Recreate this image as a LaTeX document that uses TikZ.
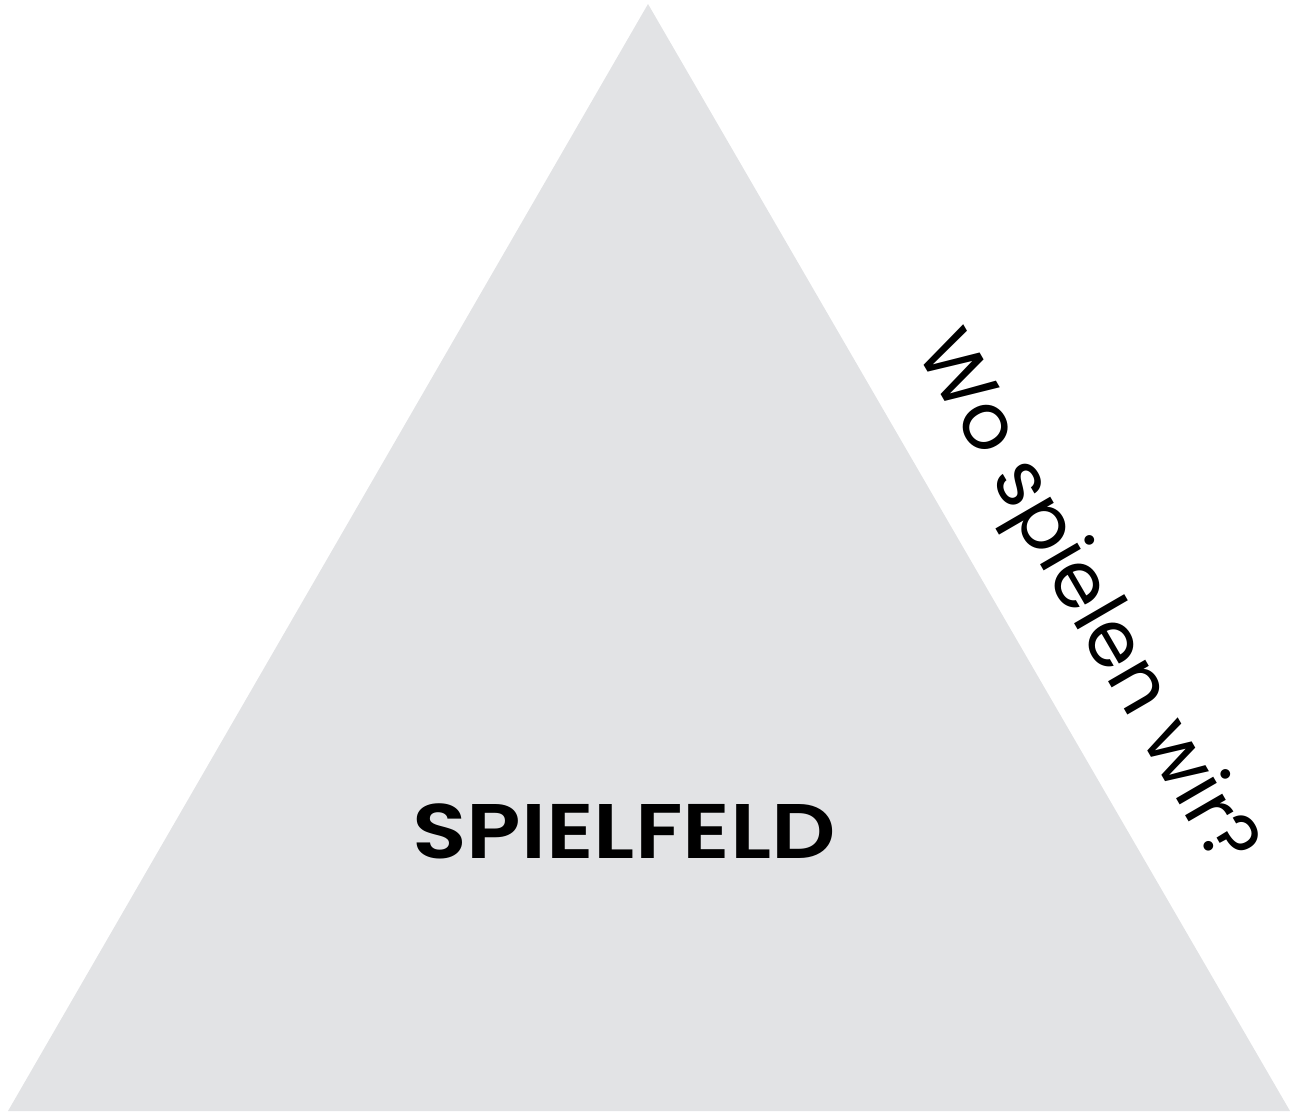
\documentclass[tikz,border=0pt]{standalone}
\usepackage{fontspec}
\setmainfont{Poppins}
\newfontfamily\fieldfont{Poppins SemiBold}
\usepackage{xcolor}
\usetikzlibrary{positioning}
\definecolor{fieldgray}{RGB}{226,227,229}
\tikzset{
  fieldtri/.style={fill=fieldgray, draw=none},
  fieldlabel/.style={font=\fieldfont\fontsize{22}{26}\selectfont, text=black, inner sep=0pt, xscale=1.16, transform shape},
  sidelabel/.style={font=\fontsize{22.3}{27}\selectfont, text=black, inner sep=0pt, rotate=-59.9}
}

\begin{document}
\begin{tikzpicture}[x=0.01cm, y=-0.01cm]
\useasboundingbox (0,0) rectangle (1292,1115);
\coordinate (apex) at (648,4);
\coordinate (left) at (8,1111);
\coordinate (right) at (1290,1111);
\fill[fieldtri] (apex) -- (right) -- (left) -- cycle;
\node[fieldlabel] (field) at (624,831) {SPIELFELD};
\node[sidelabel] (question) at (1084,601) {Wo spielen wir?};
\end{tikzpicture}
\end{document}
